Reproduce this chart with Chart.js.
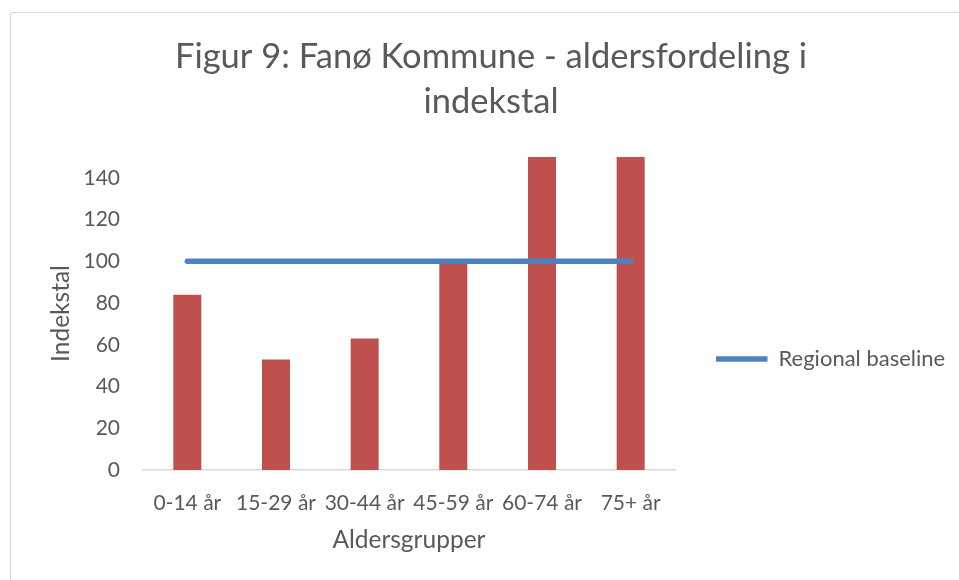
<!DOCTYPE html>
<html>
<head>
<meta charset="utf-8">
<script src="https://cdn.jsdelivr.net/npm/chart.js@4"></script>
<style>
  html, body { margin: 0; padding: 0; background: #fff; overflow: hidden; }
  #frame { position: absolute; left: 10px; top: 12px; width: 972px; height: 592px;
           border-left: 1.5px solid #d9d9d9; border-top: 1.5px solid #d9d9d9; box-sizing: border-box; }
  #wrap { position: absolute; left: 0; top: 0; width: 982px; height: 592px; }
</style>
</head>
<body>
<div id="frame"></div>
<div id="wrap"><canvas id="myChart"></canvas></div>
<script>
// aldersgrupper og indekstal
var labels = ['0-14 år', '15-29 år', '30-44 år', '45-59 år', '60-74 år', '75+ år']
var fanoValues = [84, 53, 63, 99, 150, 150]
var baselineValues = [100, 100, 100, 100, 100, 100]
var yTicks = [0, 20, 40, 60, 80, 100, 120, 140]

var gray = '#595959'
Chart.defaults.font.family = 'Lato'
Chart.defaults.color = gray

// legend is capped at a narrow width for right-side boxes, so force it wider
const legendWidth = {
    id: 'legendWidth',
    beforeLayout(chart) {
        const lg = chart.legend
        if (lg && !lg._wide) {
            const fit = lg.fit
            lg.fit = function () { fit.call(this); this.width = 254 }
            lg._wide = true
        }
    }
}

const ctx = document.getElementById('myChart');
const data = {
    labels: labels,
    datasets: [{
        type: 'bar',
        label: 'Fanø',
        data: fanoValues,
        backgroundColor: '#C0504D',
        categoryPercentage: 1,
        barPercentage: 0.316,
        order: 2
    }, {
        type: 'line',
        label: 'Regional baseline',
        data: baselineValues,
        borderColor: '#4F81BD',
        backgroundColor: '#4F81BD',
        borderWidth: 5.5,
        borderCapStyle: 'round',
        pointRadius: 0,
        order: 1
    }]
};
const config = {
    data: data,
    plugins: [legendWidth],
    options: {
        responsive: true,
        maintainAspectRatio: false,
        animation: false,
        layout: { padding: { left: 22, right: 22, top: 0, bottom: 0 } },
        plugins: {
            title: {
                display: true,
                text: ['Figur 9: Fanø Kommune - aldersfordeling i', 'indekstal'],
                font: { size: 34.5, weight: 'normal', lineHeight: 1.3 },
                color: gray,
                padding: { top: 34.5, bottom: 32.8 }
            },
            legend: {
                position: 'right',
                align: 'start',
                title: { display: true, text: ' ', font: { size: 10 }, padding: { top: 326, bottom: 0 } },
                labels: {
                    filter: item => item.datasetIndex === 1,
                    usePointStyle: true,
                    pointStyle: 'line',
                    pointStyleWidth: 51.5,
                    font: { size: 22 },
                    color: gray
                }
            },
            tooltip: { enabled: false }
        },
        scales: {
            x: {
                grid: { display: false, drawTicks: false },
                border: { color: '#d9d9d9', width: 1.5 },
                ticks: { font: { size: 21 }, color: gray, maxRotation: 0, autoSkip: false, padding: 20.4 },
                title: { display: true, text: 'Aldersgrupper', font: { size: 24.5 }, color: gray, padding: { top: 4, bottom: 37.6 } },
                afterFit: axis => { axis.height = 122 }
            },
            y: {
                min: 0,
                max: 150,
                grid: { display: false, drawTicks: false },
                border: { display: false },
                afterBuildTicks: axis => { axis.ticks = yTicks.map(v => ({ value: v })) },
                ticks: { font: { size: 21 }, color: gray, padding: 23 },
                title: { display: true, text: 'Indekstal', font: { size: 24.5 }, color: gray, padding: { top: 24.6, bottom: 4 } },
                afterFit: axis => { axis.width = 121 }
            },
            // tom akse til luft mellem plot og forklaring
            y2: {
                position: 'right',
                grid: { display: false, drawTicks: false },
                border: { display: false },
                ticks: { display: false },
                afterFit: axis => { axis.width = 31 }
            }
        }
    }
};
const myChart = new Chart(ctx, config);
</script>
</body>
</html>
